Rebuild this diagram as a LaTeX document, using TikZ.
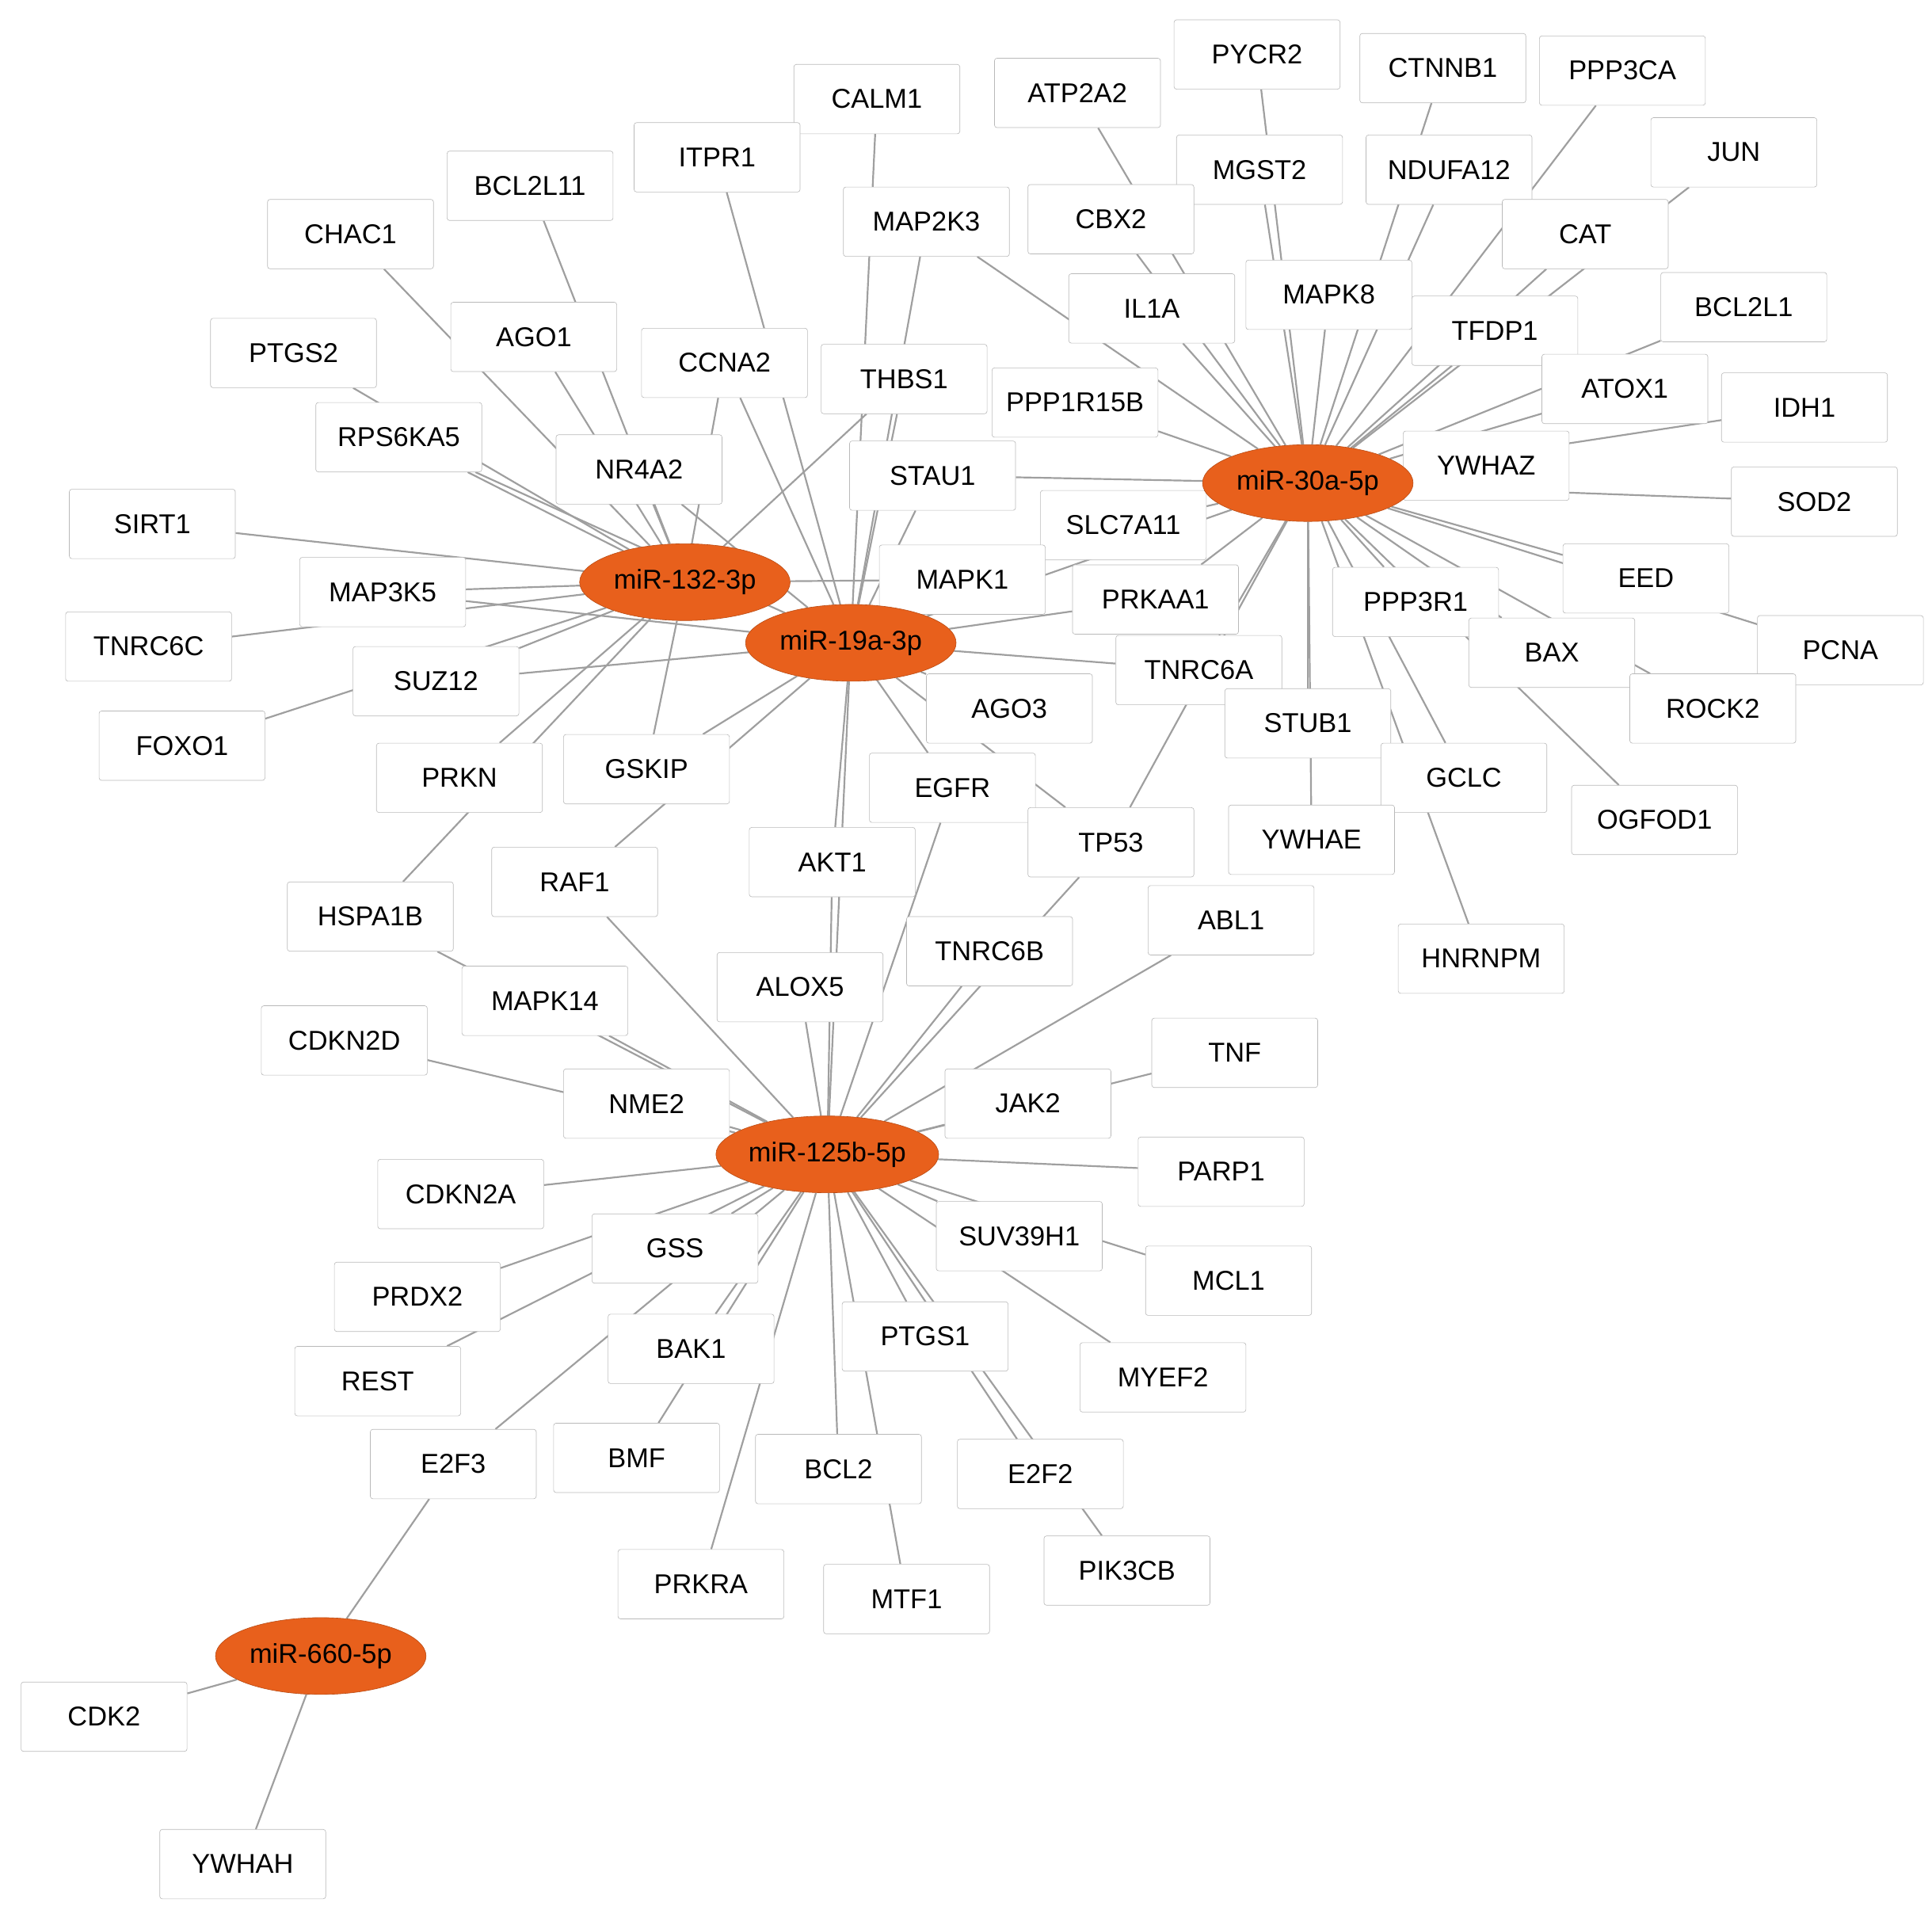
\documentclass[tikz,border=0pt]{standalone}
\usepackage{fontspec}
\setmainfont{Liberation Sans}
\usetikzlibrary{shapes.geometric,backgrounds}
\definecolor{hubc}{RGB}{232,96,28}
\tikzset{
 box/.style={draw=gray!55,rounded corners=2pt,fill=white,minimum width=134pt,minimum height=56pt,font=\fontsize{22}{24}\selectfont,inner sep=0pt},
 hub/.style={ellipse,draw=hubc!80!black,fill=hubc,minimum width=170pt,minimum height=62pt,font=\fontsize{22}{24}\selectfont,inner sep=0pt},
 edge/.style={draw=gray!75,line width=1.4pt}
}
\begin{document}
\begin{tikzpicture}[x=1pt,y=-1pt]
\useasboundingbox (0,0) rectangle (1560,1545);
\foreach \n/\x/\y in {CALM1/708/80,ATP2A2/870/75,PYCR2/1015/44,CTNNB1/1165/55,PPP3CA/1310/57,ITPR1/579/127,BCL2L11/428/150,MGST2/1017/137,NDUFA12/1170/137,JUN/1400/123,CHAC1/283/189,MAP2K3/748/179,CBX2/897/177,CAT/1280/189,IL1A/930/249,MAPK8/1073/238,TFDP1/1207/267,BCL2L1/1408/248,AGO1/431/272,CCNA2/585/293,PTGS2/237/285,THBS1/730/306,PPP1R15B/868/325,ATOX1/1312/314,IDH1/1457/329,RPS6KA5/322/353,NR4A2/516/379,STAU1/753/384,YWHAZ/1200/376,SOD2/1465/405,SIRT1/123/423,SLC7A11/907/424,MAP3K5/309/478,MAPK1/777/468,PRKAA1/933/484,PPP3R1/1143/486,EED/1329/467,TNRC6C/120/522,SUZ12/352/550,TNRC6A/968/541,BAX/1253/527,PCNA/1486/525,AGO3/815/572,STUB1/1056/584,ROCK2/1383/572,FOXO1/147/602,PRKN/371/628,GSKIP/522/621,EGFR/769/636,GCLC/1182/628,OGFOD1/1336/662,TP53/897/680,YWHAE/1059/678,AKT1/672/696,RAF1/464/712,HSPA1B/299/740,ABL1/994/743,HNRNPM/1196/774,TNRC6B/799/768,ALOX5/646/797,MAPK14/440/808,CDKN2D/278/840,TNF/997/850,NME2/522/891,JAK2/830/891,PARP1/986/946,CDKN2A/372/964,GSS/545/1008,SUV39H1/823/998,MCL1/992/1034,PRDX2/337/1047,BAK1/558/1089,PTGS1/747/1079,MYEF2/939/1112,REST/305/1115,E2F3/366/1182,BMF/514/1177,BCL2/677/1186,E2F2/840/1190,PIK3CB/910/1268,PRKRA/566/1279,MTF1/732/1291,CDK2/84/1386,YWHAH/196/1505}
  \node[box] (\n) at (\x,\y) {\n};
\node[hub] (m132) at (553,470) {miR-132-3p};
\node[hub] (m19) at (687,519) {miR-19a-3p};
\node[hub] (m30) at (1056,390) {miR-30a-5p};
\node[hub] (m125) at (668,932) {miR-125b-5p};
\node[hub] (m660) at (259,1337) {miR-660-5p};
\begin{pgfonlayer}{background}
\foreach \b in {PYCR2,CTNNB1,PPP3CA,JUN,ATP2A2,MGST2,NDUFA12,CBX2,CAT,IL1A,MAPK8,TFDP1,BCL2L1,ATOX1,IDH1,YWHAZ,SOD2,EED,PCNA,BAX,ROCK2,OGFOD1,PPP3R1,GCLC,HNRNPM,STUB1,YWHAE,TNRC6A,PRKAA1,SLC7A11,STAU1,PPP1R15B,MAP2K3,TP53,m19}
  \draw[edge] (m30) -- (\b);
\foreach \b in {CALM1,ITPR1,MAP2K3,THBS1,CCNA2,STAU1,MAPK1,PRKAA1,TNRC6A,AGO3,EGFR,AKT1,GSKIP,RAF1,SUZ12,MAP3K5,NR4A2,RPS6KA5,TP53,m125}
  \draw[edge] (m19) -- (\b);
\foreach \b in {SIRT1,MAP3K5,TNRC6C,SUZ12,RPS6KA5,PTGS2,CHAC1,AGO1,BCL2L11,NR4A2,CCNA2,THBS1,MAPK1,PRKN,GSKIP,FOXO1,HSPA1B}
  \draw[edge] (m132) -- (\b);
\foreach \b in {CDKN2D,NME2,MAPK14,HSPA1B,RAF1,ALOX5,AKT1,EGFR,TNRC6B,ABL1,TNF,JAK2,PARP1,CDKN2A,GSS,PRDX2,REST,BAK1,E2F3,BMF,PRKRA,BCL2,MTF1,PTGS1,E2F2,PIK3CB,SUV39H1,MCL1,MYEF2,TP53}
  \draw[edge] (m125) -- (\b);
\foreach \b in {E2F3,CDK2,YWHAH}
  \draw[edge] (m660) -- (\b);
\end{pgfonlayer}
\end{tikzpicture}
\end{document}
